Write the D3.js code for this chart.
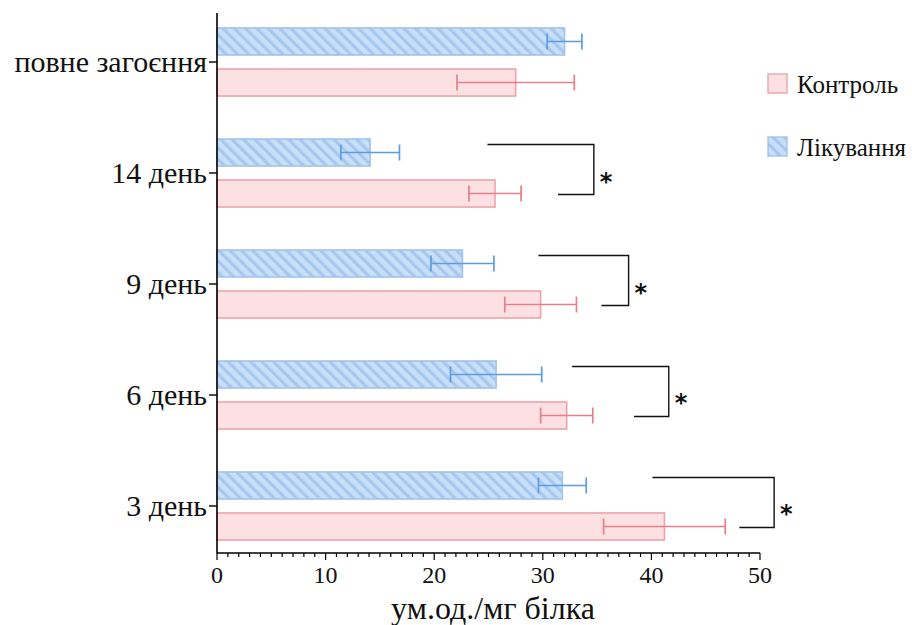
<!DOCTYPE html>
<html><head><meta charset="utf-8">
<script src="https://cdn.jsdelivr.net/npm/d3@7"></script>
<style>body{margin:0;background:#fff}svg{display:block}</style>
</head><body>
<svg id="c" width="912" height="625"></svg>
<script>
const categories = ["повне загоєння", "14 день", "9 день", "6 день", "3 день"];
const seriesNames = ["Лікування", "Контроль"];
const treatValues = [32.0, 14.1, 22.6, 25.7, 31.8];
const treatErrors = [1.6, 2.7, 2.9, 4.2, 2.2];
const controlValues = [27.5, 25.6, 29.8, 32.2, 41.2];
const controlErrors = [5.4, 2.4, 3.3, 2.4, 5.6];
const xTicks = [0, 10, 20, 30, 40, 50];
// significance brackets: category, top-line start, bottom-line start, vertical x (data units)
const sigCats = ["14 день", "9 день", "6 день", "3 день"];
const sigTopStart = [24.9, 29.6, 32.7, 40.1];
const sigBottomStart = [31.4, 35.4, 38.4, 48.1];
const sigVertical = [34.7, 37.9, 41.6, 51.3];
const xTitle = "ум.од./мг білка";
const legendItems = ["Контроль", "Лікування"];

const svg = d3.select("#c");
const FONT = "'Liberation Serif', Tinos, 'Times New Roman', serif";
const defs = svg.append("defs");
const pat = defs.append("pattern").attr("id","hatch").attr("patternUnits","userSpaceOnUse")
  .attr("width",8).attr("height",8).attr("patternTransform","rotate(-45)");
pat.append("rect").attr("width",8).attr("height",8).attr("fill","#c9def7");
pat.append("rect").attr("width",3.2).attr("height",8).attr("fill","#a6c8f0");

const x = d3.scaleLinear().domain([0,50]).range([217,760]);
const y = d3.scaleBand().domain(categories).range([6.5,561.5]).paddingInner(0.387).paddingOuter(0.1937);
const ys = d3.scaleBand().domain(seriesNames).range([0,y.bandwidth()]).paddingInner(0.341);

const style = {
  "Лікування": {fill:"url(#hatch)", stroke:"#a3c3ea", err:"#5b9de3"},
  "Контроль": {fill:"#fde0e2", stroke:"#eda3aa", err:"#e77f8b"}
};

const rows = [];
categories.forEach((c,i)=>{
  rows.push({cat:c, s:"Лікування", v:treatValues[i], e:treatErrors[i]});
  rows.push({cat:c, s:"Контроль", v:controlValues[i], e:controlErrors[i]});
});

const g = svg.append("g");
g.selectAll("rect.bar").data(rows).join("rect").attr("class","bar")
  .attr("x", x(0)).attr("y", d=>y(d.cat)+ys(d.s))
  .attr("width", d=>x(d.v)-x(0)).attr("height", ys.bandwidth())
  .attr("fill", d=>style[d.s].fill).attr("stroke", d=>style[d.s].stroke).attr("stroke-width",1.6);

const eg = g.selectAll("g.err").data(rows).join("g").attr("class","err")
  .attr("stroke", d=>style[d.s].err).attr("stroke-width",1.7);
eg.append("line").attr("x1",d=>x(d.v-d.e)).attr("x2",d=>x(d.v+d.e))
  .attr("y1",d=>y(d.cat)+ys(d.s)+ys.bandwidth()/2).attr("y2",d=>y(d.cat)+ys(d.s)+ys.bandwidth()/2);
[-1,1].forEach(sgn=>{
  eg.append("line").attr("x1",d=>x(d.v+sgn*d.e)).attr("x2",d=>x(d.v+sgn*d.e))
    .attr("y1",d=>y(d.cat)+ys(d.s)+ys.bandwidth()/2-8).attr("y2",d=>y(d.cat)+ys(d.s)+ys.bandwidth()/2+8);
});

// Y axis
const yAxisY0 = 13, axisY = 553;
svg.append("line").attr("x1",217).attr("x2",217).attr("y1",yAxisY0).attr("y2",axisY+0.5).attr("stroke","#000").attr("stroke-width",1.6);
const yl = svg.append("g");
categories.forEach(c=>{
  const cy = y(c)+y.bandwidth()/2;
  yl.append("line").attr("x1",209).attr("x2",217).attr("y1",cy).attr("y2",cy).attr("stroke","#000").attr("stroke-width",1.4);
  yl.append("text").attr("x",207).attr("y",cy).attr("dy","0.33em").attr("text-anchor","end")
    .attr("font-family",FONT).attr("font-size",30).attr("fill","#111").text(c);
});

// X axis
const xa = svg.append("g").attr("transform",`translate(0,${axisY})`);
xa.append("line").attr("x1",x(0)).attr("x2",x(50)).attr("stroke","#000").attr("stroke-width",1.6);
xa.selectAll("line.minor").data(d3.range(0,51)).join("line").attr("class","minor")
  .attr("x1",d=>x(d)).attr("x2",d=>x(d)).attr("y1",0).attr("y2",d=>d%10===0?7:4)
  .attr("stroke","#000").attr("stroke-width",1.2);
xa.selectAll("text").data(xTicks).join("text").attr("x",d=>x(d)).attr("y",30)
  .attr("text-anchor","middle").attr("font-family",FONT).attr("font-size",24).attr("fill","#111").text(d=>d);
svg.append("text").attr("x",493).attr("y",619).attr("text-anchor","middle")
  .attr("font-family",FONT).attr("font-size",32).attr("fill","#111").text(xTitle);

// significance brackets
sigCats.forEach((c,i)=>{
  const yTop = y(c)+ys("Лікування")+ys.bandwidth()/2 - 8;
  const yBot = y(c)+ys("Контроль")+ys.bandwidth()/2 + 1;
  svg.append("path").attr("d",`M${x(sigTopStart[i])},${yTop}H${x(sigVertical[i])}V${yBot}H${x(sigBottomStart[i])}`)
    .attr("fill","none").attr("stroke","#111").attr("stroke-width",1.4);
  svg.append("text").attr("x",x(sigVertical[i])+6).attr("y",(yTop+yBot)/2+20)
    .attr("font-family","'DejaVu Sans',sans-serif").attr("font-weight","bold").attr("font-size",24).attr("fill","#111").text("*");
});

// legend
const lg = svg.append("g");
legendItems.forEach((name,i)=>{
  const ly = 74 + i*63;
  lg.append("rect").attr("x",768).attr("y",ly).attr("width",19).attr("height",19)
    .attr("fill",style[name].fill).attr("stroke",style[name].stroke).attr("stroke-width",1.4);
  lg.append("text").attr("x",797).attr("y",ly+10).attr("dy","0.35em").attr("font-family",FONT)
    .attr("font-size",25).attr("fill","#111").text(name);
});
</script>
</body></html>
